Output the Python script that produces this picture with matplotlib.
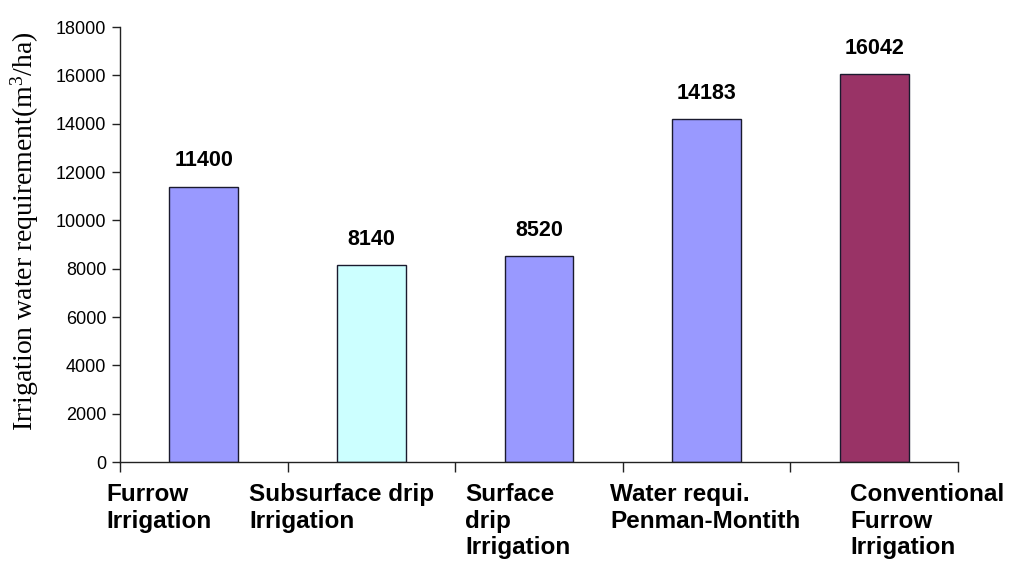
import matplotlib
matplotlib.use("Agg")
import matplotlib.pyplot as plt

categories = ["Furrow\nIrrigation", "Subsurface drip\nIrrigation", "Surface\ndrip\nIrrigation",
              "Water requi.\nPenman-Montith", "Conventional\nFurrow\nIrrigation"]
values = [11400, 8140, 8520, 14183, 16042]
colors = ["#9999FF", "#CCFFFF", "#9999FF", "#9999FF", "#993366"]
yticks = list(range(0, 18001, 2000))
ylabel = r"Irrigation water requirement(m$^3$/ha)"

# label x offsets relative to category centre (layout)
label_dx = [-0.584, -0.73, -0.442, -0.576, -0.144]

plt.rcParams["mathtext.fontset"] = "custom"
plt.rcParams["mathtext.rm"] = "Liberation Serif"
plt.rcParams["mathtext.it"] = "Liberation Serif"

fig = plt.figure(figsize=(10.12, 5.69), dpi=100)
ax = fig.add_axes([0.1186, 0.188, 0.828, 0.7645])

x = list(range(len(values)))
ax.bar(x, values, width=0.41, color=colors, edgecolor="#1a1a2e", linewidth=1.0)
ax.set_xlim(-0.5, len(values) - 0.5)
ax.set_ylim(0, 18000)

for xi, v in zip(x, values):
    ax.annotate(f"{v}", (xi, v), xytext=(0, 11), textcoords="offset points",
                ha="center", va="bottom", fontsize=15.5, fontweight="bold",
                family="Liberation Sans")

ax.spines["top"].set_visible(False)
ax.spines["right"].set_visible(False)
for s in ("left", "bottom"):
    ax.spines[s].set_linewidth(1.0)
    ax.spines[s].set_color("#222222")

ax.set_yticks(yticks)
ax.set_yticklabels([str(t) for t in yticks], fontsize=13, family="Liberation Sans")
ax.tick_params(axis="y", direction="out", length=6, width=1, colors="#222222",
               labelcolor="black", pad=4)

boundaries = [i - 0.5 for i in range(len(values) + 1)]
ax.set_xticks(boundaries)
ax.set_xticklabels([""] * len(boundaries))
ax.tick_params(axis="x", direction="out", length=7, width=1, colors="#222222")

for xi, lab, dx in zip(x, categories, label_dx):
    ax.text(xi + dx, -850, lab, transform=ax.transData, ha="left", va="top",
            fontsize=17.5, fontweight="bold", family="Liberation Sans",
            linespacing=1.22, clip_on=False)

ax.set_ylabel(ylabel, fontsize=20, family="Liberation Serif")
ax.yaxis.set_label_coords(-0.094, 0.53)

fig.savefig("out.png", dpi=100)
